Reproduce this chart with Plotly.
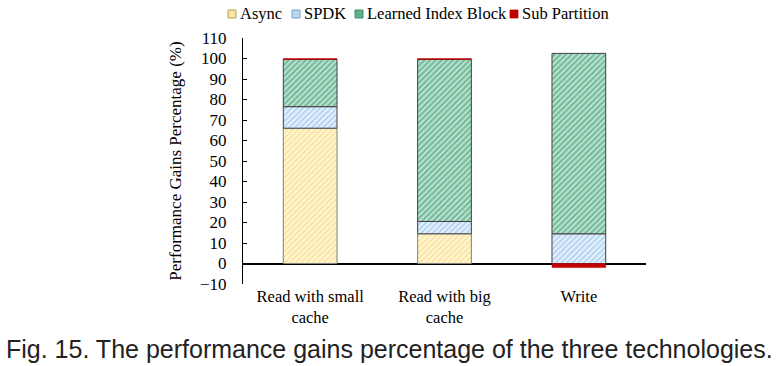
import plotly.graph_objects as go

categories = ["Read with small<br>cache", "Read with big<br>cache", "Write"]
series_names = ["Async", "SPDK", "Learned Index Block", "Sub Partition"]
async_vals = [66, 14.5, 0]
spdk_vals = [10.5, 6, 14.5]
lib_vals = [23, 79, 88]
sub_vals = [0.5, 0.5, -2]
y_ticks = list(range(-10, 111, 10))

serif = "Liberation Serif, Times New Roman, serif"

W, H = 778, 366
L, R, T, B = 243, 646, 38, 284

def px(x):
    return (x - L) / (R - L)

def py(y):
    return (B - y) / (B - T)

fig = go.Figure()
line_col = "#7F7F7F"
fig.add_bar(name=series_names[0], x=categories, y=async_vals,
            marker=dict(color="#FFF3CC", line=dict(color=line_col, width=1),
                        pattern=dict(shape="/", fgcolor="#F5CF5A", bgcolor="#FFF6D8", size=4, solidity=0.45)))
fig.add_bar(name=series_names[1], x=categories, y=spdk_vals,
            marker=dict(color="#DDEBF8", line=dict(color="#404040", width=1),
                        pattern=dict(shape="/", fgcolor="#7AB3E8", bgcolor="#EAF3FC", size=4, solidity=0.5)))
fig.add_bar(name=series_names[2], x=categories, y=lib_vals,
            marker=dict(color="#5BB38E", line=dict(color="#404040", width=1),
                        pattern=dict(shape="/", fgcolor="#1F8F5F", bgcolor="#C6E6D6", size=4, solidity=0.55)))
fig.add_bar(name=series_names[3], x=categories, y=sub_vals,
            marker=dict(color="#C00000", line=dict(color="#C00000", width=0.5)))

# compact legend (page pixels)
legend_sq_x = [228, 292, 355, 510]
legend_txt_x = [238, 302, 365, 520]
legend_cols = ["#FBE5A0", "#BCD9F2", "#5DB38C", "#C00000"]
legend_lines = ["#A08A40", "#6A8FB5", "#2E7A55", "#C00000"]
shapes = []
annotations = []
for i, name in enumerate(series_names):
    shapes.append(dict(type="rect", xref="paper", yref="paper",
                       x0=px(legend_sq_x[i]), x1=px(legend_sq_x[i] + 8),
                       y0=py(18), y1=py(10),
                       fillcolor=legend_cols[i], line=dict(color=legend_lines[i], width=0.8)))
    annotations.append(dict(text=name, xref="paper", yref="paper", x=px(legend_txt_x[i]), y=py(14),
                            xanchor="left", yanchor="middle", showarrow=False,
                            font=dict(family=serif, size=16.5, color="black")))

annotations.append(dict(text="Fig. 15. The performance gains percentage of the three technologies.",
                        xref="paper", yref="paper", x=px(389), y=py(349), xanchor="center", yanchor="middle",
                        showarrow=False, font=dict(family="Liberation Sans, Arial, sans-serif", size=25, color="#222")))

fig.update_layout(
    barmode="relative",
    bargap=0.6,
    width=W, height=H,
    margin=dict(l=L, r=W - R, t=T, b=H - B, autoexpand=False),
    paper_bgcolor="white", plot_bgcolor="white",
    font=dict(family=serif, size=17, color="black"),
    showlegend=False,
    xaxis=dict(showline=False, ticks="", showgrid=False, tickfont=dict(size=16.5)),
    yaxis=dict(range=[-10, 110], tickvals=y_ticks, ticks="inside", ticklen=4, tickcolor="black",
               showline=True, linecolor="black", linewidth=1, showgrid=False,
               zeroline=True, zerolinecolor="black", zerolinewidth=1.5,
               ticklabelstandoff=12, tickfont=dict(size=17),
               title=dict(text="Performance Gains Percentage (%)", font=dict(size=17), standoff=14)),
    shapes=shapes,
    annotations=annotations,
)

fig.write_html("out.html",
               config=dict(displayModeBar=False),
               post_script="document.body.style.margin='0';document.body.style.padding='0';document.body.style.overflow='hidden';")
